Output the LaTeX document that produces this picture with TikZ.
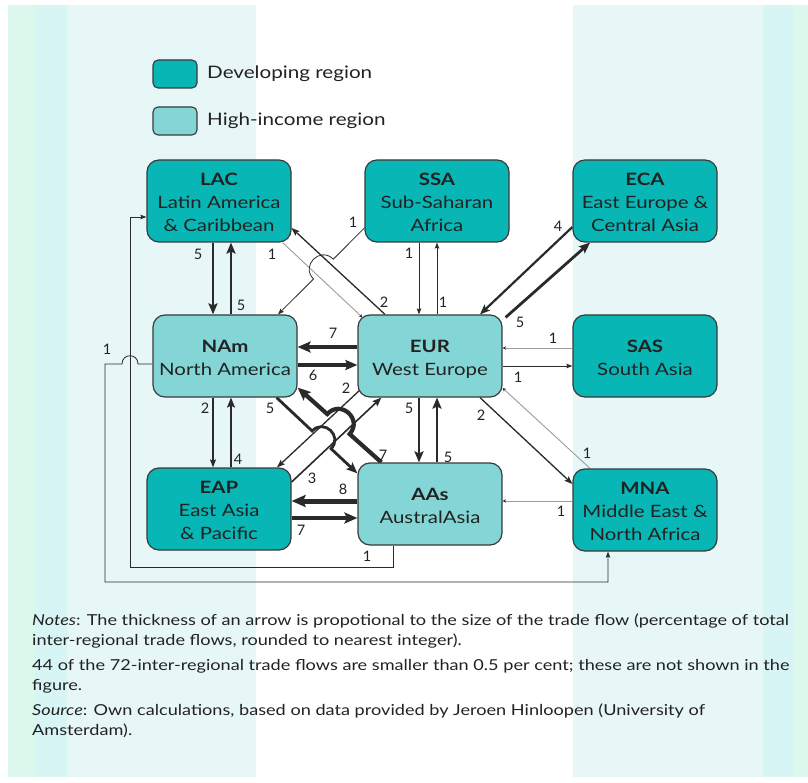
\documentclass[tikz,border=0pt]{standalone}
\usepackage{fontspec}
\usepackage{graphicx}
\setmainfont{Lato}
\usetikzlibrary{arrows.meta,calc}
\pgfdeclarelayer{back}
\pgfdeclarelayer{conn}
\pgfsetlayers{back,conn,main}
\definecolor{devc}{HTML}{08B6B5}
\definecolor{highc}{HTML}{84D6D6}
\definecolor{bord}{HTML}{3A3A3A}
\definecolor{lnk}{HTML}{2A2A2A}
\definecolor{lgt}{HTML}{9C9C9C}
\definecolor{bgG}{HTML}{DCF7EC}
\definecolor{bgC}{HTML}{D7F5F5}
\definecolor{bgL}{HTML}{E7F7F7}
\definecolor{txt}{HTML}{222222}
\newcommand\wide[1]{\scalebox{1.2}[1]{#1}}
\newcommand\rtext[1]{\raisebox{-3pt}[\height][\depth]{\scalebox{1.2}[1]{\begin{tabular}{@{}c@{}}#1\end{tabular}}}}
\begin{document}
\begin{tikzpicture}[x=1pt,y=1pt,
 region/.style={draw=bord, line width=1.2pt, rounded corners=12pt, minimum width=144pt, minimum height=82pt, inner sep=0pt, align=center, text=txt, font=\fontsize{17}{23}\selectfont},
 devbox/.style={region, fill=devc},
 hibox/.style={region, fill=highc},
 legbox/.style={draw=bord, line width=1.1pt, rounded corners=5pt, minimum width=44pt, minimum height=28pt, inner sep=0pt},
 legtxt/.style={anchor=west, inner sep=0pt, text=txt, font=\fontsize{17.2}{17.2}\selectfont},
 notetxt/.style={anchor=base west, inner sep=0pt, text=txt, font=\fontsize{15.1}{15.1}\selectfont},
 lbl/.style={font=\fontsize{14.5}{14.5}\selectfont, inner sep=0pt, text=txt},
 lk/.style={draw=lnk},
 f1/.style={lk, line width=0.8pt, -{Stealth[length=6pt,width=4.5pt,inset=1pt]}},
 fl/.style={draw=lgt, line width=0.9pt, -{Stealth[length=3.5pt,width=3.5pt,color=lnk]}},
 f2/.style={lk, line width=1.3pt, -{Stealth[length=8pt,width=6pt,inset=1.5pt]}},
 f3/.style={lk, line width=1.6pt, -{Stealth[length=9pt,width=7pt,inset=1.5pt]}},
 f4/.style={lk, line width=2.2pt, -{Stealth[length=10pt,width=8pt,inset=2pt]}},
 f5/.style={lk, line width=2.8pt, -{Stealth[length=11pt,width=9pt,inset=2pt]}},
 f6/.style={lk, line width=3.5pt, -{Stealth[length=12pt,width=10pt,inset=2pt]}},
 f7/.style={lk, line width=4.2pt, -{Stealth[length=13pt,width=11pt,inset=2.5pt]}},
 f8/.style={lk, line width=5pt, -{Stealth[length=14pt,width=12pt,inset=2.5pt]}}
]
% background
\begin{pgfonlayer}{back}
\fill[white] (0,0) rectangle (808,-783);
\fill[bgG] (8,-5) rectangle (35,-777);
\fill[bgC] (35,-5) rectangle (67,-777);
\fill[bgL] (67,-5) rectangle (256,-777);
\fill[bgL] (573,-5) rectangle (763,-777);
\fill[bgC] (763,-5) rectangle (794,-777);
\fill[bgG] (794,-5) rectangle (808,-777);
\end{pgfonlayer}
\useasboundingbox (0,0) rectangle (808,-783);

% legend
\node[legbox, fill=devc] (legd) at (175,-74) {};
\node[legtxt] (legdt) at (207,-74) {\wide{Developing region}};
\node[legbox, fill=highc] (legh) at (175,-121) {};
\node[legtxt] (leght) at (207,-121) {\wide{High-income region}};

% regions
\node[devbox] (lac) at (219,-201) {\rtext{\textbf{LAC}\\Latin America\\\& Caribbean}};
\node[devbox] (ssa) at (437,-201) {\rtext{\textbf{SSA}\\Sub-Saharan\\Africa}};
\node[devbox] (eca) at (645,-201) {\rtext{\textbf{ECA}\\East Europe \&\\Central Asia}};
\node[hibox] (nam) at (225,-356) {\rtext{\textbf{NAm}\\North America}};
\node[hibox] (eur) at (430,-356) {\rtext{\textbf{EUR}\\West Europe}};
\node[devbox] (sas) at (645,-356) {\rtext{\textbf{SAS}\\South Asia}};
\node[devbox] (eap) at (219,-509) {\rtext{\textbf{EAP}\\East Asia\\\& Pacific}};
\node[hibox] (aas) at (430,-504) {\rtext{\textbf{AAs}\\AustralAsia}};
\node[devbox] (mna) at (645,-510) {\rtext{\textbf{MNA}\\Middle East \&\\North Africa}};

% endpoint coordinates
\coordinate (Cs) at ([yshift=-27pt]ssa.west);
\coordinate (Ce) at ([xshift=53pt]nam.north);
\coordinate (Ds) at ([xshift=-45pt]eur.north);
\coordinate (De) at ([yshift=-27pt]lac.east);
\coordinate (Es) at ([xshift=-9pt]lac.south east);
\coordinate (Ee) at ([xshift=5pt,yshift=-3pt]eur.north west);
\coordinate (Ys) at ([xshift=24pt]aas.north west);
\coordinate (Ye) at ([yshift=10pt]nam.south east);
\coordinate (Zs) at ([xshift=-21pt]nam.south east);
\coordinate (Ze) at ([yshift=-11pt]aas.north west);
\coordinate (paS) at ([xshift=3pt,yshift=8pt]eur.south west);
\coordinate (paE) at ([xshift=58pt]eap.north);
\coordinate (pbS) at ([yshift=27pt]eap.east);
\coordinate (pbE) at ([xshift=24pt]eur.south west);
\coordinate (wl) at (130,-567);
\coordinate (xl) at (105,-364);
\coordinate (xb) at (105,-582);

% hop points
\coordinate (c1) at (intersection of Cs--Ce and Ds--De);
\coordinate (c2) at (intersection of Cs--Ce and Es--Ee);
\coordinate (cm) at ($(c1)!0.5!(c2)$);
\coordinate (ch1) at ($(cm)!14pt!(Cs)$);
\coordinate (ch2) at ($(cm)!14pt!(Ce)$);
\coordinate (y1) at (intersection of Ys--Ye and paS--paE);
\coordinate (y2) at (intersection of Ys--Ye and pbS--pbE);
\coordinate (ym) at ($(y1)!0.5!(y2)$);
\coordinate (yh1) at ($(ym)!15pt!(Ys)$);
\coordinate (yh2) at ($(ym)!15pt!(Ye)$);
\coordinate (z1) at (intersection of Zs--Ze and paS--paE);
\coordinate (z2) at (intersection of Zs--Ze and pbS--pbE);
\coordinate (zm) at ($(z1)!0.5!(z2)$);
\coordinate (zh1) at ($(zm)!13pt!(Zs)$);
\coordinate (zh2) at ($(zm)!13pt!(Ze)$);

\begin{pgfonlayer}{conn}
% LAC <-> NAm
\draw[f5] ([xshift=-6pt]lac.south) -- ([xshift=-6pt]lac.south |- nam.north) node[lbl] at (198,-254) {5};
\draw[f5] ([xshift=6pt]nam.north) -- ([xshift=6pt]nam.north |- lac.south) node[lbl] at (241,-305) {5};
% LAC <-> EUR
\draw[f2] (Ds) -- (De) node[lbl] at (384,-302) {2};
\draw[fl] (Es) -- (Ee) node[lbl] at (272,-254) {1};
% SSA -> NAm with hop
\draw[f1] (Cs) -- (ch1) .. controls ($(ch1)!0.667!-90:(ch2)$) and ($(ch2)!0.667!90:(ch1)$) .. (ch2) -- (Ce) node[lbl] at (353,-222) {1};
% SSA <-> EUR
\draw[f1] ([xshift=-18pt]ssa.south) -- ([xshift=-18pt]ssa.south |- eur.north) node[lbl] at (409,-253) {1};
\draw[f1] ([xshift=7pt]eur.north) -- ([xshift=7pt]eur.north |- ssa.south) node[lbl] at (443,-302) {1};
% ECA <-> EUR
\draw[f4] ([yshift=-26pt]eca.west) -- ([xshift=50pt]eur.north) node[lbl] at (558,-226) {4};
\draw[f5] ([xshift=3pt,yshift=-3pt]eur.north east) -- ([xshift=-55pt]eca.south) node[lbl] at (520,-322) {5};
% NAm <-> EUR
\draw[f7] ([yshift=9pt]eur.west) -- ([yshift=9pt]eur.west -| nam.east) node[lbl] at (333,-333) {7};
\draw[f6] ([yshift=-9pt]nam.east) -- ([yshift=-9pt]nam.east -| eur.west) node[lbl] at (313,-375) {6};
% SAS <-> EUR
\draw[fl] ([yshift=8pt]sas.west) -- ([yshift=8pt]sas.west -| eur.east) node[lbl] at (553,-338) {1};
\draw[f1] ([yshift=-10pt]eur.east) -- ([yshift=-10pt]eur.east -| sas.west) node[lbl] at (518,-377) {1};
% NAm <-> EAP
\draw[f2] ([xshift=-12pt]nam.south) -- ([xshift=-12pt]nam.south |- eap.north) node[lbl] at (205,-408) {2};
\draw[f4] ([xshift=12pt]eap.north) -- ([xshift=12pt]eap.north |- nam.south) node[lbl] at (238,-459) {4};
% EUR <-> AAs
\draw[f5] ([xshift=-11pt]eur.south) -- ([xshift=-11pt]eur.south |- aas.north) node[lbl] at (409,-408) {5};
\draw[f5] ([xshift=7pt]aas.north) -- ([xshift=7pt]aas.north |- eur.south) node[lbl] at (448,-457) {5};
% EUR <-> MNA
\draw[f2] ([xshift=50pt]eur.south) -- ([yshift=26pt]mna.west) node[lbl] at (481,-415) {2};
\draw[fl] ([xshift=-55pt]mna.north) -- ([yshift=-32pt]eur.east) node[lbl] at (587,-453) {1};
% AAs <-> EAP
\draw[f8] ([yshift=3pt]aas.west) -- ([yshift=3pt]aas.west -| eap.east) node[lbl] at (343,-489) {8};
\draw[f7] ([yshift=-9pt]eap.east) -- ([yshift=-9pt]eap.east -| aas.west) node[lbl] at (301,-530) {7};
% MNA -> AAs
\draw[fl] ([yshift=9pt]mna.west) -- ([yshift=9pt]mna.west -| aas.east) node[lbl] at (561,-511) {1};
% AAs -> LAC
\draw[f1] ([xshift=-37pt]aas.south) |- (wl) |- ([yshift=-16pt]lac.west) node[lbl] at (367,-556) {1};
% NAm -> MNA with hop
\draw[f1] ([yshift=-8pt]nam.west) -- (138,-364) .. controls (138,-353) and (122,-353) .. (122,-364) -- (xl) -- (xb) -| ([xshift=-37pt]mna.south) node[lbl] at (107,-349) {1};
% EUR <-> EAP
\draw[f2] (paS) -- (paE) node[lbl] at (346,-388) {2};
\draw[f3] (pbS) -- (pbE) node[lbl] at (312,-478) {3};
% AAs <-> NAm with hops
\draw[f7] (Ys) -- (yh1) .. controls ($(yh1)!0.667!-90:(yh2)$) and ($(yh2)!0.667!90:(yh1)$) .. (yh2) -- (Ye) node[lbl] at (383,-455) {7};
\draw[f5] (Zs) -- (zh1) .. controls ($(zh1)!0.667!90:(zh2)$) and ($(zh2)!0.667!-90:(zh1)$) .. (zh2) -- (Ze) node[lbl] at (270,-408) {5};
\end{pgfonlayer}

% notes
\node[notetxt] (n1) at (32,-625) {\wide{\textit{Notes}: The thickness of an arrow is propotional to the size of the trade flow (percentage of total}};
\node[notetxt] (n2) at (32,-645) {\wide{inter-regional trade flows, rounded to nearest integer).}};
\node[notetxt] (n3) at (32,-670) {\wide{44 of the 72-inter-regional trade flows are smaller than 0.5 per cent; these are not shown in the}};
\node[notetxt] (n4) at (32,-690) {\wide{figure.}};
\node[notetxt] (n5) at (32,-715) {\wide{\textit{Source}: Own calculations, based on data provided by Jeroen Hinloopen (University of}};
\node[notetxt] (n6) at (32,-735) {\wide{Amsterdam).}};
\end{tikzpicture}
\end{document}
